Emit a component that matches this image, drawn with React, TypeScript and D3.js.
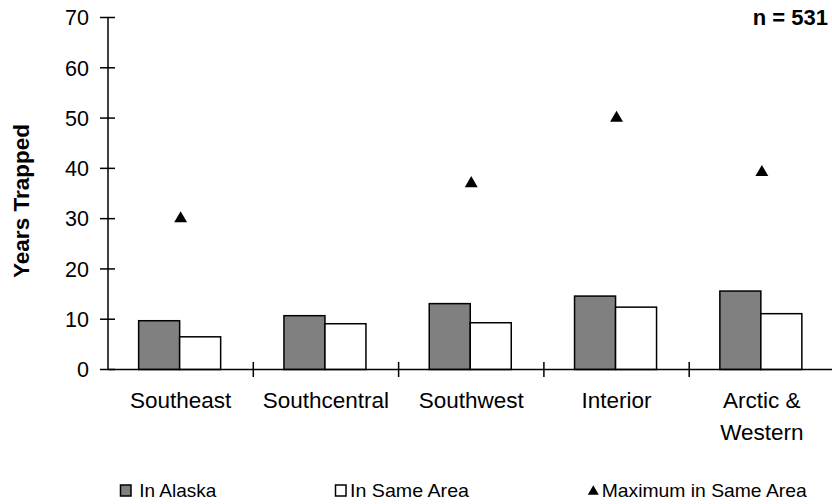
import React from "react";
import * as d3 from "d3";

const categories: string[][] = [["Southeast"], ["Southcentral"], ["Southwest"], ["Interior"], ["Arctic &", "Western"]];
const inAlaska: number[] = [9.7, 10.7, 13.1, 14.6, 15.6];
const inSameArea: number[] = [6.5, 9.1, 9.3, 12.4, 11.1];
const maxInSameArea: number[] = [30, 37, 50, 39.2];
const maxCats: number[] = [0, 2, 3, 4];
const yTicks: number[] = [0, 10, 20, 30, 40, 50, 60, 70];
const seriesNames: string[] = ["In Alaska", "In Same Area"];
const legendLabels: string[] = ["In Alaska", "In Same Area", "Maximum in Same Area"];

const W = 832;
const H = 504;
const FONT = "'Liberation Sans', Arial, sans-serif";

export default function App() {
  const left = 108;
  const right = 834.5;
  const y = d3.scaleLinear().domain([0, 70]).range([369.5, 17.5]);
  const catKeys = categories.map((c) => c.join(" "));
  const x0 = d3.scaleBand<string>().domain(catKeys).range([left, right]).padding(0);
  const groupW = 82;
  const x1 = d3.scaleBand<string>().domain(seriesNames).range([0, groupW]).padding(0);
  const off = (x0.bandwidth() - groupW) / 2 - 1;
  const tri = d3.symbol().type(d3.symbolTriangle).size(72)() as string;
  const triSmall = d3.symbol().type(d3.symbolTriangle).size(52)() as string;
  const series = [inAlaska, inSameArea];
  const fills = ["#808080", "#ffffff"];

  return (
    <svg width={W} height={H} style={{ position: "absolute", left: 0, top: 0, background: "#fff" }}>
      {/* bars */}
      {catKeys.map((k, i) => (
        <g key={k} transform={`translate(${(x0(k) as number) + off},0)`}>
          {series.map((s, j) => (
            <rect
              key={j}
              x={x1(seriesNames[j]) as number}
              y={y(s[i])}
              width={x1.bandwidth()}
              height={y(0) - y(s[i])}
              fill={fills[j]}
              stroke="#000"
              strokeWidth={1.5}
            />
          ))}
        </g>
      ))}
      {/* triangles */}
      {maxInSameArea.map((v, i) => {
        const k = catKeys[maxCats[i]];
        const cx = (x0(k) as number) + x0.bandwidth() / 2;
        return <path key={i} d={tri} transform={`translate(${cx},${y(v)})`} fill="#000" />;
      })}
      {/* y axis */}
      <line x1={left} x2={left} y1={y(70)} y2={y(0)} stroke="#000" strokeWidth={1.5} />
      {yTicks.map((t) => (
        <g key={t}>
          <line x1={100} x2={115} y1={y(t)} y2={y(t)} stroke="#000" strokeWidth={1.5} />
          <text x={89} y={y(t) + 7.8} textAnchor="end" fontFamily={FONT} fontSize={21.5} fill="#000">
            {t}
          </text>
        </g>
      ))}
      {/* x axis */}
      <line x1={left} x2={W} y1={y(0)} y2={y(0)} stroke="#000" strokeWidth={1.5} />
      {catKeys.slice(1).map((k) => (
        <line key={k} x1={x0(k) as number} x2={x0(k) as number} y1={362} y2={377} stroke="#000" strokeWidth={1.5} />
      ))}
      {categories.map((lines, i) => {
        const cx = (x0(catKeys[i]) as number) + x0.bandwidth() / 2;
        return (
          <text key={i} textAnchor="middle" fontFamily={FONT} fontSize={22.5} fill="#000">
            {lines.map((l, li) => (
              <tspan key={li} x={cx} y={408 + li * 32}>
                {l}
              </tspan>
            ))}
          </text>
        );
      })}
      {/* y title */}
      <text
        transform="translate(29,201) rotate(-90)"
        textAnchor="middle"
        fontFamily={FONT}
        fontWeight="bold"
        fontSize={22.5}
        fill="#000"
      >
        Years Trapped
      </text>
      {/* n label */}
      <text x={828} y={25} textAnchor="end" fontFamily={FONT} fontWeight="bold" fontSize={22} fill="#000">
        n = 531
      </text>
      {/* legend */}
      <rect x={120.5} y={485} width={10.5} height={11} fill="#808080" stroke="#000" strokeWidth={1.5} />
      <text x={139.3} y={497} fontFamily={FONT} fontSize={19} textLength={77} lengthAdjust="spacingAndGlyphs">
        {legendLabels[0]}
      </text>
      <rect x={335.5} y={485} width={10.5} height={11} fill="#fff" stroke="#000" strokeWidth={1.5} />
      <text x={350} y={497} fontFamily={FONT} fontSize={19} textLength={119} lengthAdjust="spacingAndGlyphs">
        {legendLabels[1]}
      </text>
      <path d={triSmall} transform="translate(593.3,491.5)" fill="#000" />
      <text x={601.7} y={497} fontFamily={FONT} fontSize={19} textLength={205} lengthAdjust="spacingAndGlyphs">
        {legendLabels[2]}
      </text>
    </svg>
  );
}
